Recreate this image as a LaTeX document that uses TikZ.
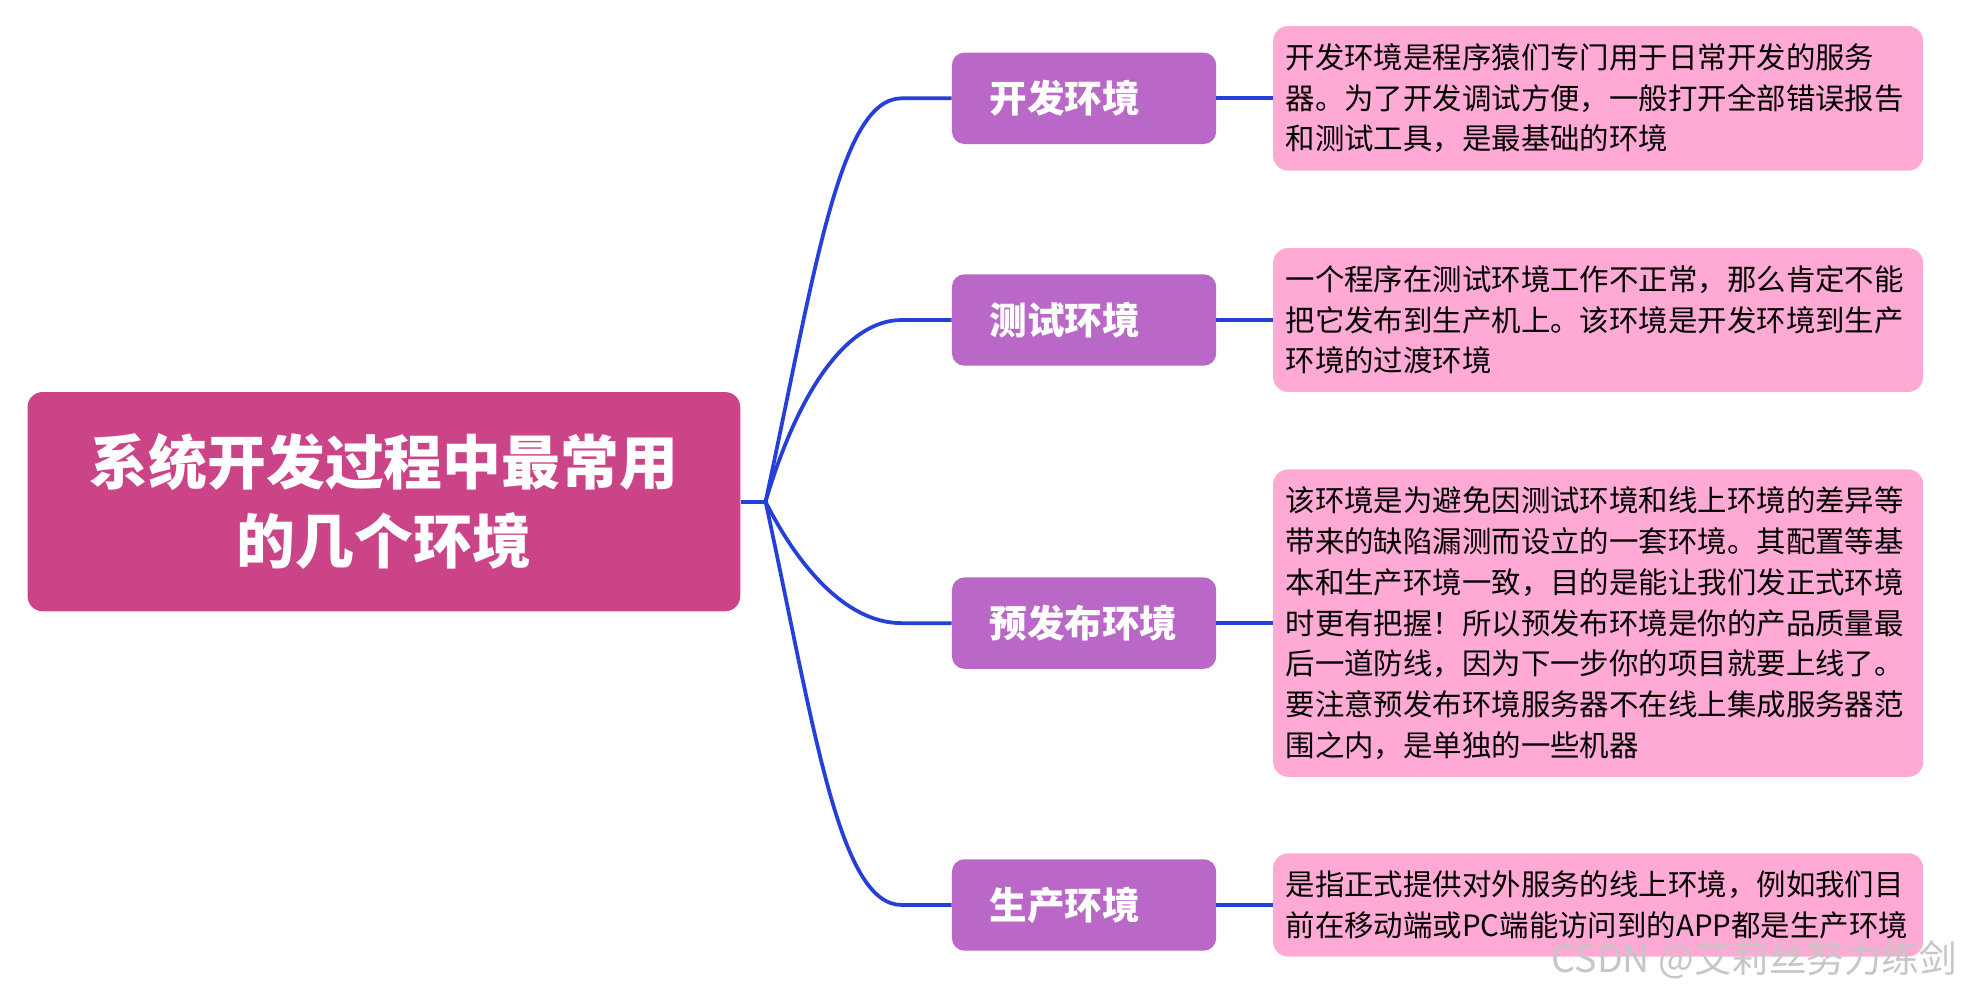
\documentclass[tikz,border=0pt]{standalone}
\usepackage{fontspec}
\setmainfont{Noto Sans CJK SC}
\usepackage{tikz}
\usetikzlibrary{positioning}

\definecolor{rootpink}{RGB}{204,68,136}
\definecolor{envviolet}{RGB}{185,104,199}
\definecolor{notepink}{RGB}{255,170,212}
\definecolor{linkblue}{RGB}{37,64,216}

\tikzset{
  rootbox/.style={fill=rootpink, text=white, rounded corners=12pt, minimum width=569pt,
                  minimum height=175pt, align=center, font=\fontsize{47pt}{63pt}\selectfont\bfseries},
  envbox/.style={fill=envviolet, text=white, rounded corners=10pt, minimum height=73pt,
                 text width=151pt, inner xsep=30pt, align=left, font=\fontsize{30pt}{36pt}\selectfont\bfseries},
  notebox/.style={fill=notepink, rounded corners=12pt, text width=499pt, inner xsep=10pt,
                  inner ysep=14pt, align=left, font=\fontsize{23.5pt}{32.5pt}\selectfont},
  link/.style={draw=linkblue, line width=3pt},
}

\begin{document}
\begin{tikzpicture}[x=1pt, y=-1pt]
    \useasboundingbox (0,0) rectangle (1568,792);

    % draw root box
    \node[rootbox] (root) at (306.5,400.5) {系统开发过程中最常用\\的几个环境};
    \coordinate[right=20pt of root] (hub);

    % draw environment boxes
    \node[envbox] (kf) at (865.5,78.5)  {开发环境};
    \node[envbox] (cs) at (865.5,255.5) {测试环境};
    \node[envbox] (yf) at (865.5,497.5) {预发布环境};
    \node[envbox] (sc) at (865.5,722.5) {生产环境};

    % draw note boxes
    \node[notebox, right=45pt of kf] (kfnote) {开发环境是程序猿们专门用于日常开发的服务\\
      器。为了开发调试方便，一般打开全部错误报告\\和测试工具，是最基础的环境};
    \node[notebox, right=45pt of cs] (csnote) {一个程序在测试环境工作不正常，那么肯定不能\\
      把它发布到生产机上。该环境是开发环境到生产\\环境的过渡环境};
    \node[notebox, right=45pt of yf] (yfnote) {该环境是为避免因测试环境和线上环境的差异等\\
      带来的缺陷漏测而设立的一套环境。其配置等基\\本和生产环境一致，目的是能让我们发正式环境\\
      时更有把握！所以预发布环境是你的产品质量最\\后一道防线，因为下一步你的项目就要上线了。\\
      要注意预发布环境服务器不在线上集成服务器范\\围之内，是单独的一些机器};
    \node[notebox, right=45pt of sc] (scnote) {是指正式提供对外服务的线上环境，例如我们目\\
      前在移动端或PC端能访问到的APP都是生产环境};

    % draw links from root
    \draw[link] (root.east) -- (hub);
    \draw[link] (hub) .. controls +(39,-181) and +(-50,0) .. ([xshift=-40pt]kf.west) -- (kf.west);
    \draw[link] (hub) .. controls +(25,-85) and +(-45,0) .. ([xshift=-40pt]cs.west) -- (cs.west);
    \draw[link] (hub) .. controls +(25,50) and +(-45,0) .. ([xshift=-40pt]yf.west) -- (yf.west);
    \draw[link] (hub) .. controls +(39,181) and +(-50,0) .. ([xshift=-40pt]sc.west) -- (sc.west);

    % draw links to notes
    \draw[link] (kf.east) -- (kfnote.west);
    \draw[link] (cs.east) -- (csnote.west);
    \draw[link] (yf.east) -- (yfnote.west);
    \draw[link] (sc.east) -- (scnote.west);

    % watermark
    \node[text=gray!45, anchor=east, font=\fontsize{30pt}{30pt}\selectfont] (mark) at (1566,766) {CSDN @艾莉丝努力练剑};
\end{tikzpicture}
\end{document}
